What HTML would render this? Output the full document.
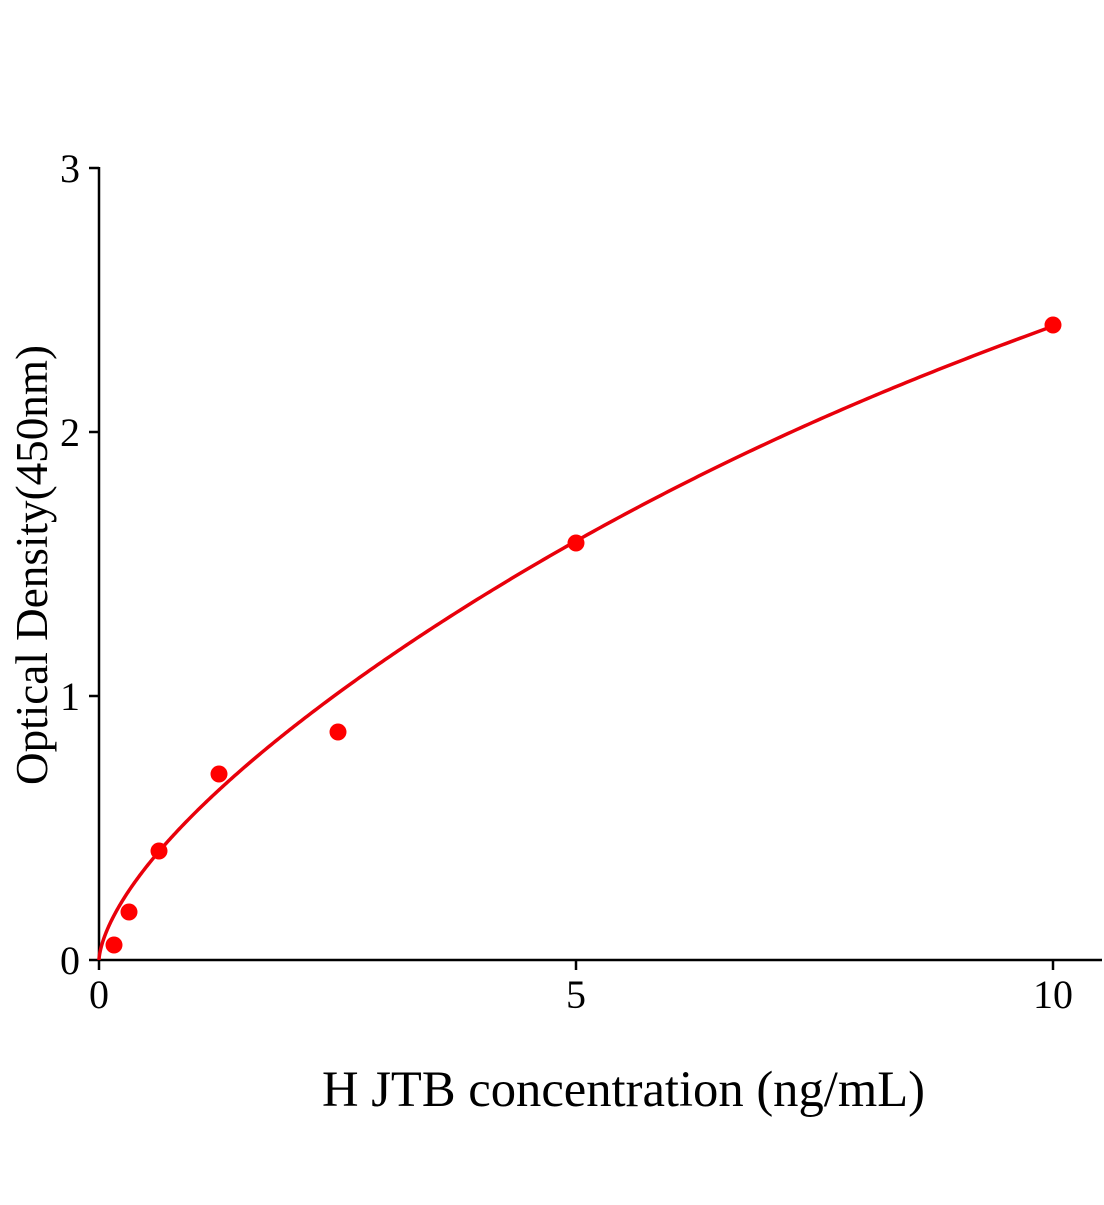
<!DOCTYPE html>
<html><head><meta charset="utf-8"><style>body{margin:0;background:#fff}</style></head><body>
<svg width="1104" height="1200" xmlns="http://www.w3.org/2000/svg" font-family="Liberation Serif, serif">
<rect width="1104" height="1200" fill="#fff"/>
<g stroke="#000" stroke-width="2.5" fill="none">
<line x1="99" y1="167" x2="99" y2="961"/>
<line x1="98" y1="960" x2="1102" y2="960"/>
<line x1="89" y1="168" x2="99" y2="168"/>
<line x1="89" y1="432" x2="99" y2="432"/>
<line x1="89" y1="696" x2="99" y2="696"/>
<line x1="89" y1="960" x2="99" y2="960"/>
<line x1="99" y1="960" x2="99" y2="970"/>
<line x1="576" y1="960" x2="576" y2="970"/>
<line x1="1053" y1="960" x2="1053" y2="970"/>
</g>
<g font-size="40" text-anchor="end" fill="#000">
<text x="80" y="182">3</text><text x="80" y="446">2</text><text x="80" y="710">1</text><text x="80" y="974">0</text>
</g>
<g font-size="40" text-anchor="middle" fill="#000">
<text x="99" y="1008">0</text><text x="576" y="1008">5</text><text x="1053" y="1008">10</text>
</g>
<text x="322" y="1106" font-size="51" textLength="603" lengthAdjust="spacingAndGlyphs">H JTB concentration (ng/mL)</text>
<text transform="translate(47,565) rotate(-90)" font-size="45" text-anchor="middle" textLength="440" lengthAdjust="spacingAndGlyphs">Optical Density(450nm)</text>
<path id="curve" d="M99,960 L1053,327" fill="none" stroke="#e8000b" stroke-width="3.5" stroke-linejoin="round"/>
<g fill="#ff0000">
<circle cx="114" cy="945" r="8.5"/><circle cx="129" cy="912" r="8.5"/><circle cx="159" cy="851" r="8.5"/><circle cx="219" cy="774" r="8.5"/><circle cx="338" cy="732" r="8.5"/><circle cx="576" cy="543" r="8.5"/><circle cx="1053" cy="325" r="8.5"/>
</g>
</svg>
<script>
(function(){
var d="M99,960";
for(var i=1;i<=400;i++){
var x=10*Math.pow(i/400,2);
var y=0.55*Math.pow(x,0.64)*(1+0.03*Math.sin(Math.PI*x/10));
d+=" L"+(99+95.4*x).toFixed(2)+","+(960-264*y).toFixed(2);
}
document.getElementById("curve").setAttribute("d",d);
})();
</script>
</body></html>
